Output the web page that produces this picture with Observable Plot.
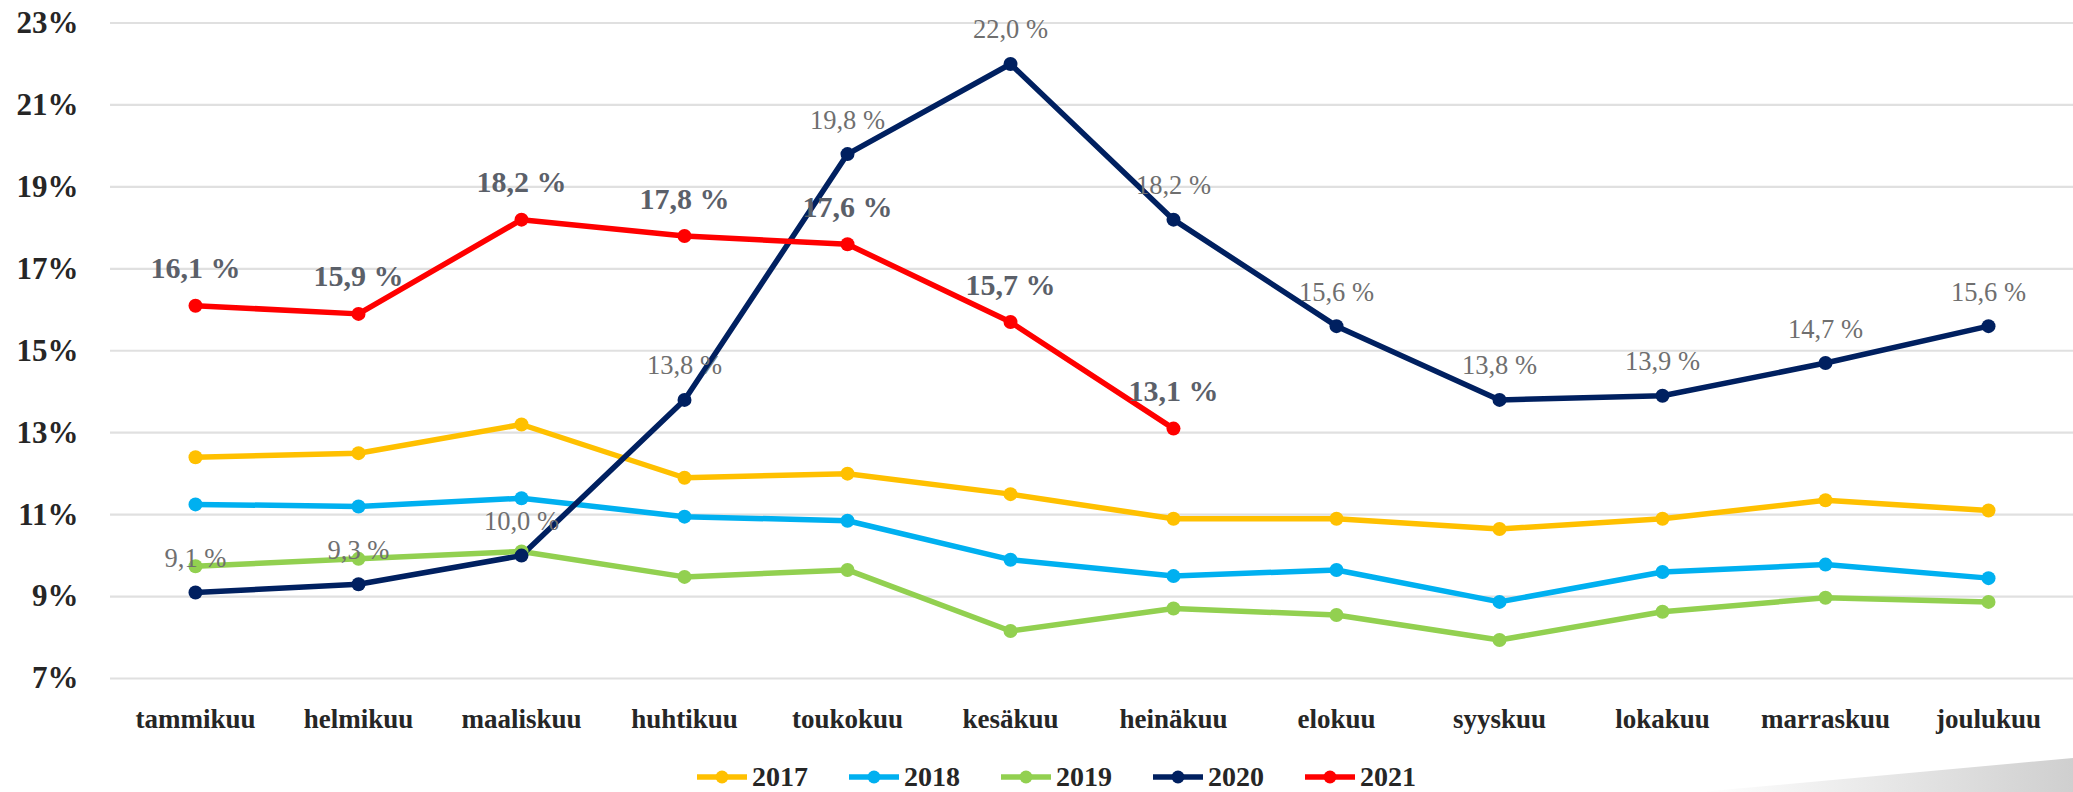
<!DOCTYPE html>
<html><head><meta charset="utf-8">
<script src="https://cdn.jsdelivr.net/npm/d3@7"></script>
<script src="https://cdn.jsdelivr.net/npm/@observablehq/plot@0.6"></script>
<style>
body{margin:0;background:#fff;font-family:"Liberation Serif",serif;width:2073px;height:792px;overflow:hidden;position:relative}
#chart svg{display:block}
#legend{position:absolute;left:697px;top:762px;height:30px;display:flex;align-items:center}
.item{display:flex;align-items:center;margin-right:41px}
.item span{font-size:28px;font-weight:bold;color:#262626;margin-left:5px;line-height:30px}
#wedge{position:absolute;left:1700px;top:758px;width:373px;height:34px;clip-path:polygon(0 100%,100% 0,100% 100%);background:linear-gradient(to right,#ffffff,#cfcfcf)}
</style></head><body>
<div id="chart"></div>
<div id="legend"></div>
<div id="wedge"></div>
<script>
const months = ["tammikuu","helmikuu","maaliskuu","huhtikuu","toukokuu","kesäkuu","heinäkuu","elokuu","syyskuu","lokakuu","marraskuu","joulukuu"];
const years = ["2017","2018","2019","2020","2021"];
const colors = ["#FFC000","#00B0F0","#92D050","#002060","#FF0000"];
const v2017 = [12.4,12.5,13.2,11.9,12.0,11.5,10.9,10.9,10.65,10.9,11.35,11.1];
const v2018 = [11.25,11.2,11.4,10.95,10.85,9.9,9.5,9.65,8.87,9.6,9.78,9.45];
const v2019 = [9.74,9.92,10.1,9.48,9.65,8.16,8.71,8.55,7.94,8.63,8.97,8.87];
const v2020 = [9.1,9.3,10.0,13.8,19.8,22.0,18.2,15.6,13.8,13.9,14.7,15.6];
const v2021 = [16.1,15.9,18.2,17.8,17.6,15.7,13.1];
const yTicks = [7,9,11,13,15,17,19,21,23];

const series = [v2017,v2018,v2019,v2020,v2021];
const rows = [];
years.forEach((y,i)=>series[i].forEach((v,j)=>rows.push({year:y,month:months[j],value:v})));
const fmt = v => v.toFixed(1).replace(".", ",") + " %";

const chart = Plot.plot({
  width: 2073,
  height: 745,
  marginTop: 22.5,
  marginBottom: 67,
  marginLeft: 110,
  marginRight: 0,
  style: {fontFamily: '"Liberation Serif", serif', background: "#fff"},
  x: {type: "point", domain: months, padding: 0.5},
  y: {domain: [7,23]},
  color: {domain: years, range: colors},
  marks: [
    Plot.gridY(yTicks, {stroke: "#e0e0e0", strokeOpacity: 1, strokeWidth: 2.2}),
    Plot.axisY(yTicks, {tickSize: 0, tickPadding: 32, tickFormat: d => d + "%", fontSize: 31, fontWeight: "bold", fill: "#262626", label: null}),
    Plot.axisX({tickSize: 0, tickPadding: 30, fontSize: 27, fontWeight: "bold", fill: "#262626", label: null}),
    Plot.line(rows, {x: "month", y: "value", stroke: "year", z: "year", strokeWidth: 5.5}),
    Plot.dot(rows, {x: "month", y: "value", fill: "year", r: 7}),
    Plot.text(rows.filter(d => d.year === "2020"), {x: "month", y: "value", text: d => fmt(d.value), dy: -34, fill: "#6f6f6f", fontSize: 26.5}),
    Plot.text(rows.filter(d => d.year === "2021"), {x: "month", y: "value", text: d => fmt(d.value), dy: -37, fill: "#5b6069", fontSize: 30, fontWeight: "bold"})
  ]
});
document.getElementById("chart").appendChild(chart);

const legend = document.getElementById("legend");
years.forEach((y,i)=>{
  const item = document.createElement("div");
  item.className = "item";
  item.innerHTML = `<svg width="50" height="16"><line x1="1" x2="49" y1="8" y2="8" stroke="${colors[i]}" stroke-width="5.5" stroke-linecap="round"/><circle cx="25" cy="8" r="6.5" fill="${colors[i]}"/></svg><span>${y}</span>`;
  legend.appendChild(item);
});
</script>
</body></html>
